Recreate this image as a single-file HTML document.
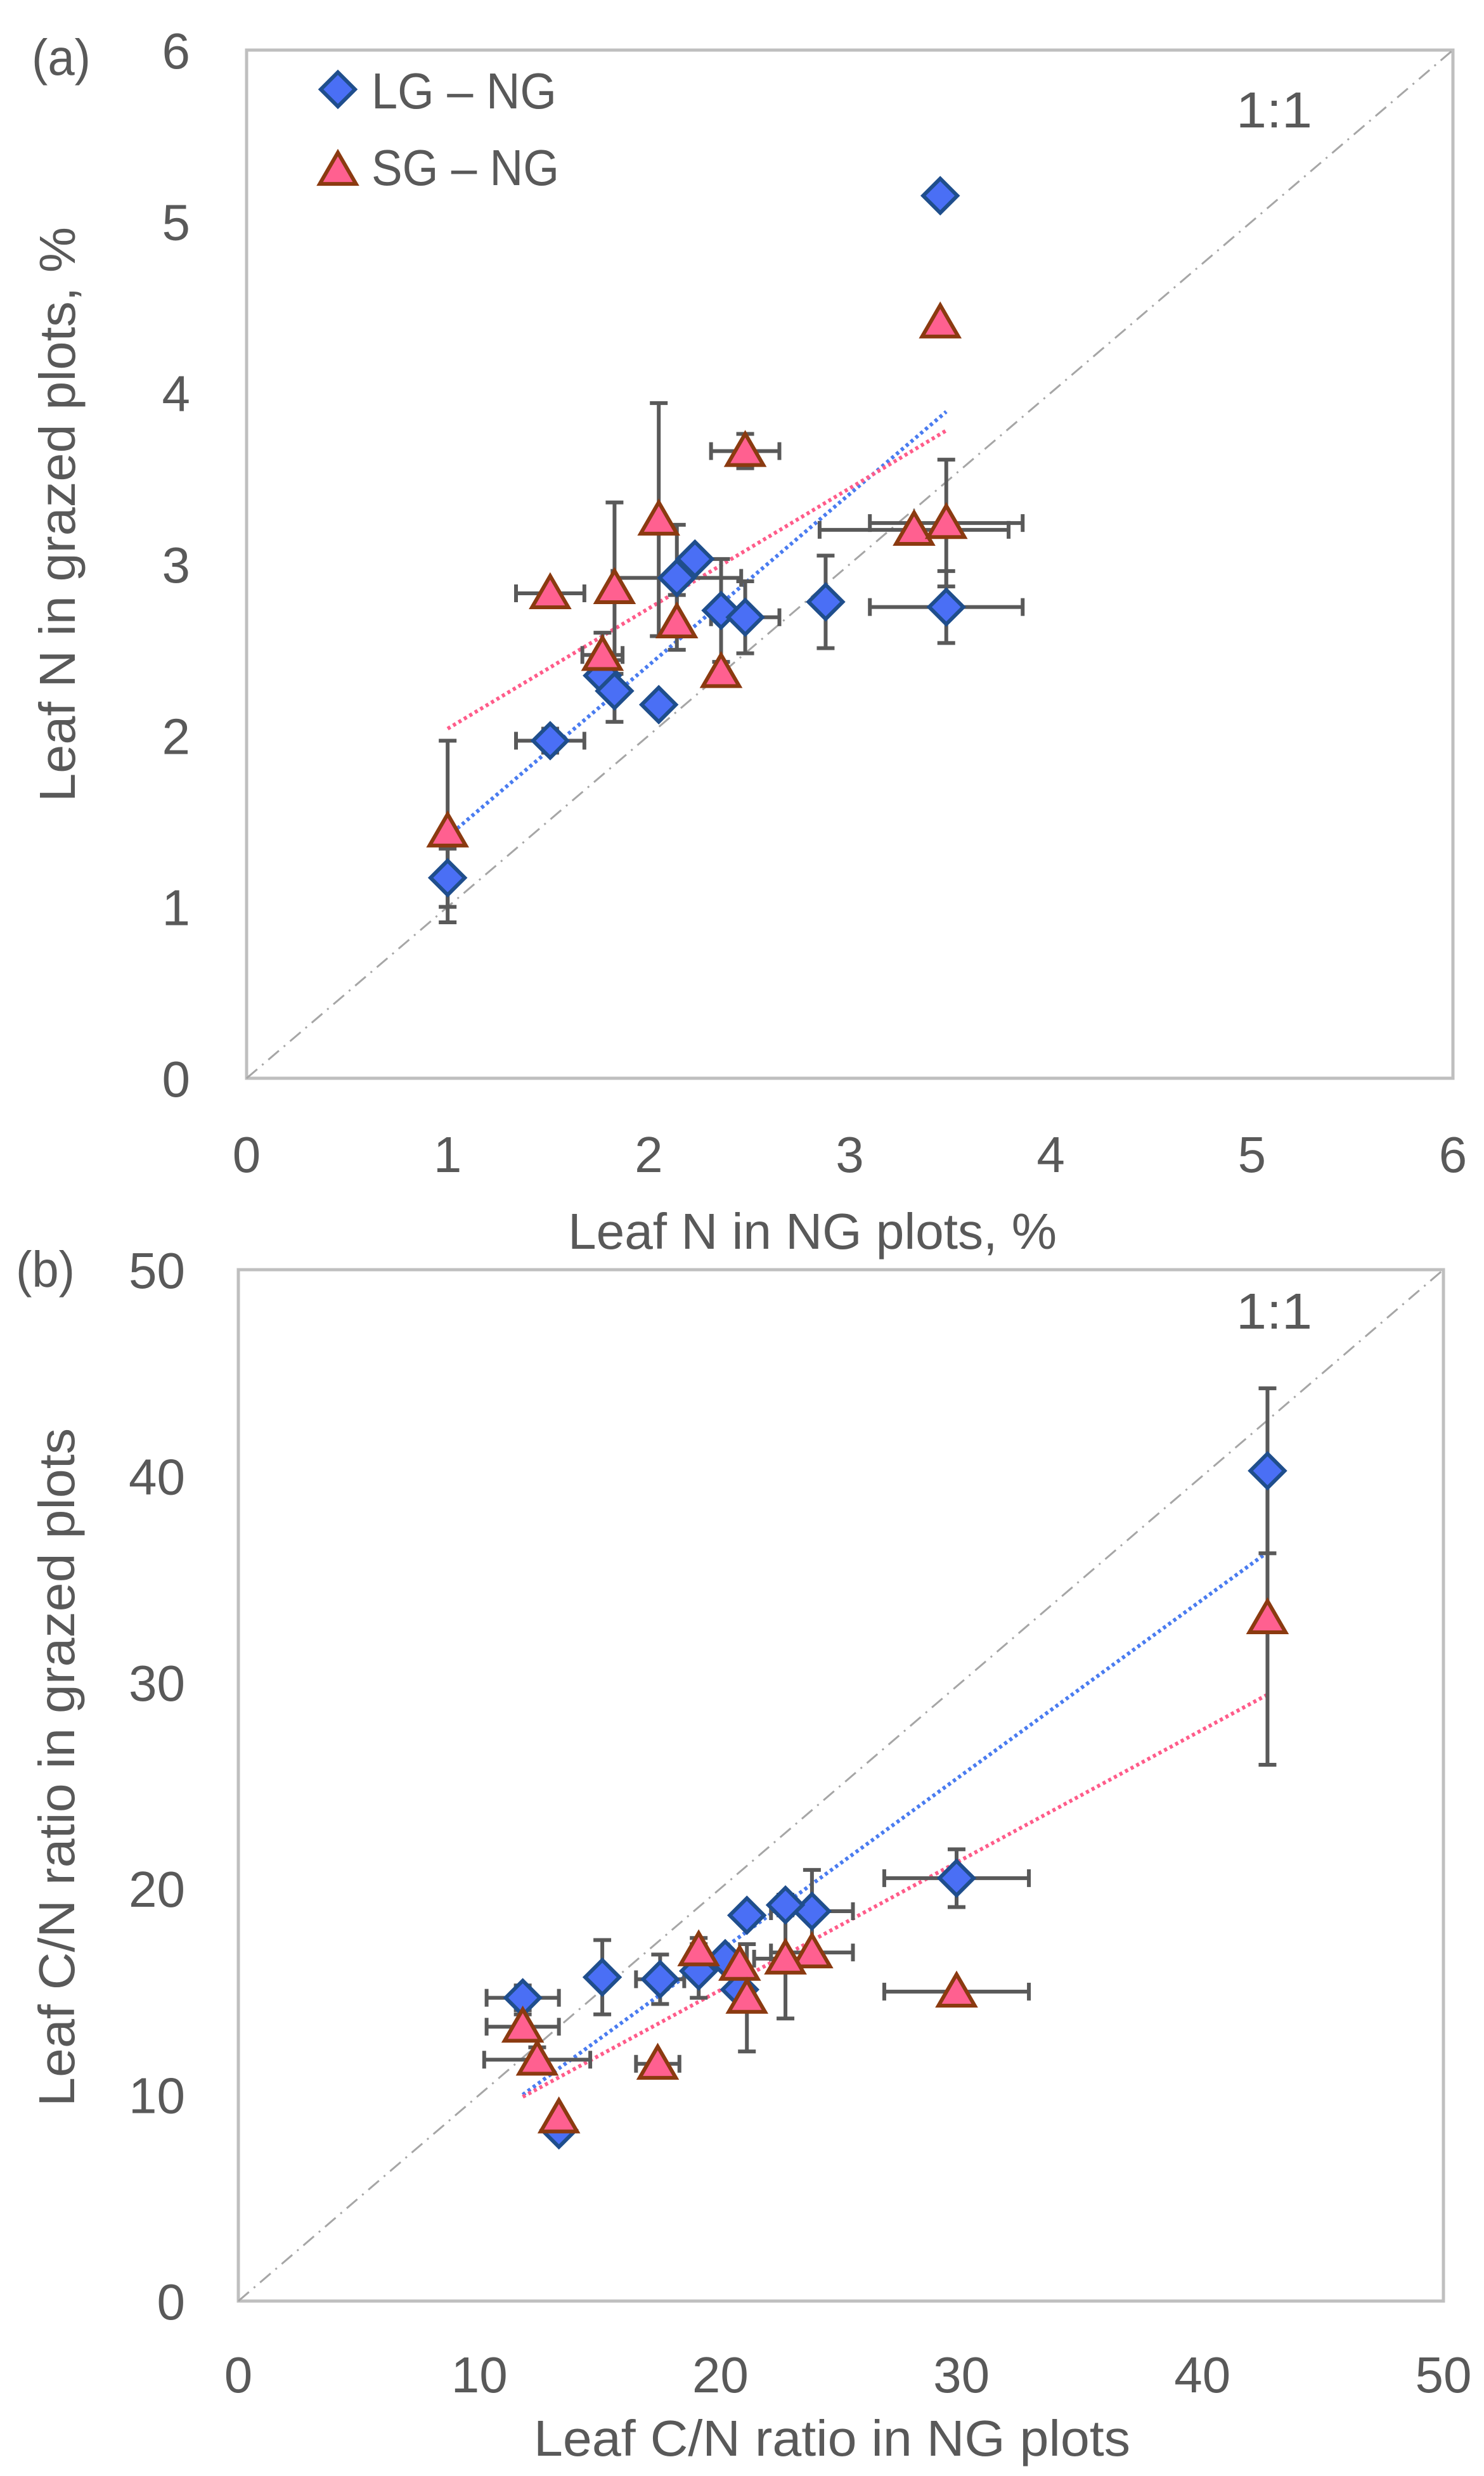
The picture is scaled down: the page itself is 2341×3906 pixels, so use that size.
<!DOCTYPE html>
<html><head><meta charset="utf-8"><style>
html,body{margin:0;padding:0;background:#fff;}
svg{display:block;font-family:"Liberation Sans",sans-serif;}
</style></head><body>
<svg id="fig" width="2341" height="3906" viewBox="0 0 2341 3906" xmlns="http://www.w3.org/2000/svg">
<g id="pa"></g>
<g id="pb"></g>
</svg>
<script>
// Panel (a) data: Leaf N
const aLGx = [1.0, 1.51, 1.77, 1.83, 2.05, 2.14, 2.23, 2.36, 2.48, 2.88, 3.48, 3.45];
const aLGy = [1.17, 1.97, 2.35, 2.26, 2.18, 2.92, 3.03, 2.73, 2.69, 2.78, 2.75, 5.15];
const aLGxe = [0, 0.17, 0, 0, 0, 0.32, 0, 0, 0.17, 0, 0.38, 0];
const aLGye = [0.17, 0.07, 0, 0.18, 0, 0.31, 0, 0.3, 0.21, 0.27, 0.21, 0];
const aSGx = [1.0, 1.51, 1.77, 1.83, 2.05, 2.14, 2.36, 2.48, 3.32, 3.48, 3.45];
const aSGy = [1.44, 2.83, 2.47, 2.86, 3.26, 2.66, 2.37, 3.66, 3.2, 3.24, 4.41];
const aSGxe = [0, 0.17, 0.1, 0, 0, 0, 0, 0.17, 0.47, 0.38, 0];
const aSGye = [0.53, 0, 0.13, 0.5, 0.68, 0.16, 0, 0.1, 0, 0.37, 0];
const aTrendLG = [[1.0, 1.41], [3.48, 3.89]];
const aTrendSG = [[1.0, 2.04], [3.48, 3.78]];
const aTicks = [0, 1, 2, 3, 4, 5, 6];

// Panel (b) data: Leaf C/N
const bLGx = [42.7, 29.8, 23.8, 22.7, 21.1, 20.2, 19.1, 17.5, 15.1, 11.8, 20.8, 13.3];
const bLGy = [40.25, 20.5, 18.9, 19.2, 18.7, 16.6, 16.0, 15.6, 15.7, 14.7, 15.1, 8.3];
const bLGxe = [0, 3.0, 1.7, 0, 0, 0, 0, 1.0, 0, 1.5, 0, 0];
const bLGye = [4.0, 1.4, 2.0, 0.5, 0, 0, 1.3, 1.2, 1.8, 0.6, 1.0, 0];
const bSGx = [42.7, 29.8, 23.8, 22.7, 20.8, 21.1, 19.1, 17.4, 12.4, 11.8, 13.3];
const bSGy = [33.1, 15.0, 16.9, 16.6, 16.3, 14.7, 17.0, 11.5, 11.7, 13.3, 8.9];
const bSGxe = [0, 3.0, 1.7, 1.3, 0, 0, 0, 0.9, 2.2, 1.5, 0];
const bSGye = [7.1, 0, 0, 2.9, 0, 2.6, 0.6, 0, 0.6, 0.6, 0];
const bTrendLG = [[11.8, 10.0], [42.7, 36.3]];
const bTrendSG = [[11.8, 9.9], [42.7, 29.4]];
const bTicks = [0, 10, 20, 30, 40, 50];

const NS = "http://www.w3.org/2000/svg";
function mk(parent, tag, attrs, text) {
  const e = document.createElementNS(NS, tag);
  for (const k in attrs) e.setAttribute(k, attrs[k]);
  if (text !== undefined) e.textContent = text;
  parent.appendChild(e);
  return e;
}
const TXT = "#595959";

function diamond(g, cx, cy, s) {
  const e = mk(g, "polygon", {points: `${cx},${cy-s} ${cx+s},${cy} ${cx},${cy+s} ${cx-s},${cy}`, fill: "#4a6ff5", stroke: "#1f4e8c", "stroke-width": 6});
  
  
  return e;
}
function triangle(g, cx, cy, s) {
  const e = mk(g, "polygon", {points: `${cx},${cy-s*1.05} ${cx+s*1.1},${cy+s*0.85} ${cx-s*1.1},${cy+s*0.85}`, fill: "#ff6090", stroke: "#8b3a10", "stroke-width": 6});
  
  
  return e;
}

function panel(g, cfg) {
  const {L, R, T, B, max, ticks, ytl, xtlBase, lg, sg, trLG, trSG} = cfg;
  const sx = v => L + (R - L) * v / max;
  const sy = v => B - (B - T) * v / max;
  const fr = mk(g, "rect", {x: L, y: T, width: R - L, height: B - T, fill: "none", stroke: "#bfbfbf", "stroke-width": 5});
  
  
  const one = mk(g, "line", {x1: sx(0), y1: sy(0), x2: sx(max), y2: sy(max), stroke: "#a6a6a6", "stroke-width": 3, "stroke-dasharray": "22 10 3 10"});
  
  
  ticks.forEach(t => {
    const yl = mk(g, "text", {x: ytl, y: sy(t) + 29, "text-anchor": "end", "font-size": 80, fill: TXT}, String(t));
    
    
    const xl = mk(g, "text", {x: sx(t), y: xtlBase, "text-anchor": "middle", "font-size": 80, fill: TXT}, String(t));
    
    
  });
  [[trLG, "#4a7cf0", "trendline-lg"], [trSG, "#ff5c8a", "trendline-sg"]].forEach(([tr, c, n]) => {
    const l = mk(g, "line", {x1: sx(tr[0][0]), y1: sy(tr[0][1]), x2: sx(tr[1][0]), y2: sy(tr[1][1]), stroke: c, "stroke-width": 6, "stroke-dasharray": "5 5"});
    
    
  });
  const eg = mk(g, "g", {stroke: "#595959", "stroke-width": 6, fill: "none"});
  
  
  const cap = 14;
  [lg, sg].forEach(s => {
    s.x.forEach((xv, i) => {
      const cx = sx(xv), cy = sy(s.y[i]);
      if (s.xe[i] > 0) {
        const a = sx(xv - s.xe[i]), b = sx(xv + s.xe[i]);
        mk(eg, "path", {d: `M${a},${cy}H${b}M${a},${cy-cap}V${cy+cap}M${b},${cy-cap}V${cy+cap}`});
      }
      if (s.ye[i] > 0) {
        const a = sy(s.y[i] - s.ye[i]), b = sy(s.y[i] + s.ye[i]);
        mk(eg, "path", {d: `M${cx},${a}V${b}M${cx-cap},${a}H${cx+cap}M${cx-cap},${b}H${cx+cap}`});
      }
    });
  });
  lg.x.forEach((xv, i) => diamond(g, sx(xv), sy(lg.y[i]), 27));
  sg.x.forEach((xv, i) => triangle(g, sx(xv), sy(sg.y[i]), 26));
}

const pa = document.getElementById("pa");
panel(pa, {L: 389, R: 2292, T: 79, B: 1701, max: 6, ticks: aTicks, ytl: 300, xtlBase: 1849,
  lg: {x: aLGx, y: aLGy, xe: aLGxe, ye: aLGye}, sg: {x: aSGx, y: aSGy, xe: aSGxe, ye: aSGye},
  trLG: aTrendLG, trSG: aTrendSG});
const pb = document.getElementById("pb");
panel(pb, {L: 376, R: 2277, T: 2003, B: 3630, max: 50, ticks: bTicks, ytl: 292, xtlBase: 3774,
  lg: {x: bLGx, y: bLGy, xe: bLGxe, ye: bLGye}, sg: {x: bSGx, y: bSGy, xe: bSGxe, ye: bSGye},
  trLG: bTrendLG, trSG: bTrendSG});

function label(g, name, attrs, text) {
  const e = mk(g, "text", Object.assign({fill: TXT, "font-size": 80}, attrs), text);
  
  
  return e;
}
label(pa, "panel-a-label", {x: 50, y: 118, textLength: 93, lengthAdjust: "spacingAndGlyphs"}, "(a)");
label(pb, "panel-b-label", {x: 25, y: 2030, textLength: 93, lengthAdjust: "spacingAndGlyphs"}, "(b)");
label(pa, "x-axis-title-a", {x: 896, y: 1970, textLength: 771, lengthAdjust: "spacingAndGlyphs"}, "Leaf N in NG plots, %");
label(pb, "x-axis-title-b", {x: 842, y: 3874, textLength: 941, lengthAdjust: "spacingAndGlyphs"}, "Leaf C/N ratio in NG plots");
label(pa, "y-axis-title-a", {x: 0, y: 0, transform: "translate(118,1265) rotate(-90)", textLength: 907, lengthAdjust: "spacingAndGlyphs"}, "Leaf N in grazed plots, %");
label(pb, "y-axis-title-b", {x: 0, y: 0, transform: "translate(117,3323) rotate(-90)", textLength: 1070, lengthAdjust: "spacingAndGlyphs"}, "Leaf C/N ratio in grazed plots");
label(pa, "one-to-one-label-a", {x: 1950, y: 201, textLength: 120, lengthAdjust: "spacingAndGlyphs"}, "1:1");
label(pb, "one-to-one-label-b", {x: 1950, y: 2096, textLength: 120, lengthAdjust: "spacingAndGlyphs"}, "1:1");
const lgd = mk(pa, "g", {});


diamond(lgd, 533, 141, 27);
label(lgd, "legend-entry-lg", {x: 586, y: 171, textLength: 292, lengthAdjust: "spacingAndGlyphs"}, "LG – NG");
triangle(lgd, 533, 268, 26);
label(lgd, "legend-entry-sg", {x: 586, y: 292, textLength: 296, lengthAdjust: "spacingAndGlyphs"}, "SG – NG");
</script>
</body></html>
